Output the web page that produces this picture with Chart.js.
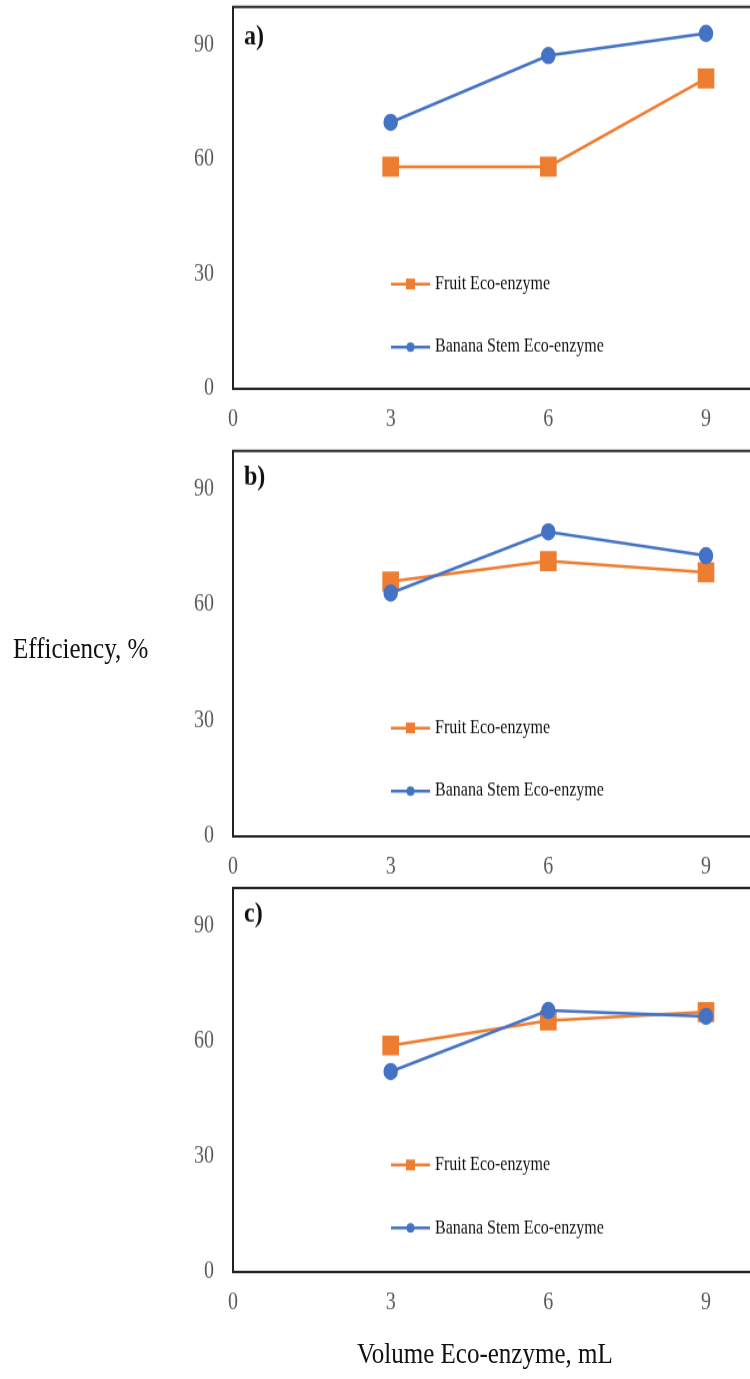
<!DOCTYPE html>
<html>
<head>
<meta charset="utf-8">
<script src="https://cdn.jsdelivr.net/npm/chart.js@4.4.1/dist/chart.umd.min.js"></script>
<style>
    html { margin: 0; padding: 0; background: #fff; overflow: hidden; }
    body { margin: 0; padding: 0; background: #fff; height: 1379px; }
    /* the source figure is stretched vertically, so draw it flat and stretch the whole block */
    #figure {
        position: relative; width: 750px; height: 1149px;
        transform: scaleY(1.2); transform-origin: 0 0;
        font-family: "Liberation Serif", "Times New Roman", serif;
    }
    #figure canvas { position: absolute; left: 0; }
    .axis-title { position: absolute; font-size: 25px; line-height: 25px; color: #111; white-space: nowrap; }
</style>
</head>
<body>
<div id="figure">
    <canvas id="chart-a"></canvas>
    <canvas id="chart-b"></canvas>
    <canvas id="chart-c"></canvas>
    <div class="axis-title" style="left:13px; top:527px;">Efficiency, %</div>
    <div class="axis-title" style="left:357px; top:1115px;">Volume Eco-enzyme, mL</div>
</div>
<script>
// Dữ liệu
const volumes = [3, 6, 9];
const xTicks = [0, 3, 6, 9];
const yTicks = [0, 30, 60, 90];
const seriesNames = ['Fruit Eco-enzyme', 'Banana Stem Eco-enzyme'];
const panelLabels = ['a)', 'b)', 'c)'];

const fruitA = [58.2, 58.2, 81.3];
const bananaA = [69.8, 87.3, 93.1];
const fruitB = [66.1, 71.4, 68.5];
const bananaB = [63.1, 79.0, 72.8];
const fruitC = [59.0, 65.5, 67.7];
const bananaC = [52.2, 68.1, 66.6];

// Bố cục (tọa độ pixel của hình gốc, trước khi kéo giãn)
const STRETCH = 1.2;
const X_AXIS_H = 36;
const Y_AXIS_W = 233;
const X_MAX = 9.837;          // mép phải bị cắt ở 750px
const FRAME = '#222';
const TICK_COLOR = '#595959';
const FONT = '"Liberation Serif", "Times New Roman", serif';
const LEGEND_ROWS = [230.8, 283.3];
const panelBoxes = [
    { id: 'chart-a', top: 7,   bottom: 389,  labelDy: 25 },
    { id: 'chart-b', top: 451, bottom: 836,  labelDy: 21.7 },
    { id: 'chart-c', top: 888, bottom: 1272, labelDy: 21.7 }
];

Chart.defaults.font.family = FONT;

// Vẽ khung trên, nhãn a)/b)/c) và chú thích nằm trong vùng biểu đồ
const panelDecor = {
    id: 'panelDecor',
    afterDatasetsDraw(chart, args, opts) {
        const { ctx, chartArea: a } = chart;
        ctx.save();
        ctx.strokeStyle = FRAME;
        ctx.lineWidth = 2;
        ctx.beginPath();
        ctx.moveTo(a.left - 1, a.top);
        ctx.lineTo(a.right, a.top);
        ctx.stroke();

        ctx.fillStyle = '#111';
        ctx.textBaseline = 'middle';
        ctx.textAlign = 'left';
        ctx.font = 'bold 24px ' + FONT;
        ctx.fillText(opts.label, a.left + 11, a.top + opts.labelDy);

        ctx.font = '16px ' + FONT;
        chart.data.datasets.forEach((ds, i) => {
            const y = a.top + LEGEND_ROWS[i];
            const x0 = a.left + 158, x1 = a.left + 197, xm = (x0 + x1) / 2;
            ctx.strokeStyle = ds.borderColor;
            ctx.lineWidth = 2.5;
            ctx.beginPath();
            ctx.moveTo(x0, y);
            ctx.lineTo(x1, y);
            ctx.stroke();
            ctx.fillStyle = ds.pointBackgroundColor;
            if (ds.pointStyle === 'rect') {
                ctx.fillRect(xm - 4.5, y - 4.5, 9, 9);
            } else {
                ctx.beginPath();
                ctx.arc(xm, y, 4, 0, Math.PI * 2);
                ctx.fill();
            }
            ctx.fillStyle = '#111';
            ctx.fillText(ds.label, x1 + 5, y);
        });
        ctx.restore();
    }
};

function toPoints(values) {
    return values.map((v, i) => ({ x: volumes[i], y: v }));
}

function makePanel(box, label, fruit, banana) {
    const topU = box.top / STRETCH;
    const areaH = (box.bottom - box.top) / STRETCH;
    const canvasTop = Math.floor(topU) - 6;
    const padTop = topU - canvasTop;
    const height = Math.ceil(padTop + areaH + X_AXIS_H);
    const padBottom = height - padTop - areaH - X_AXIS_H;

    const canvas = document.getElementById(box.id);
    canvas.width = 750;
    canvas.height = height;
    canvas.style.width = '750px';
    canvas.style.height = height + 'px';
    canvas.style.top = canvasTop + 'px';

    new Chart(canvas.getContext('2d'), {
        type: 'line',
        data: {
            datasets: [
                {
                    label: seriesNames[0],
                    data: toPoints(fruit),
                    borderColor: '#ED7D31',
                    backgroundColor: '#ED7D31',
                    pointBackgroundColor: '#ED7D31',
                    pointBorderColor: '#ED7D31',
                    pointStyle: 'rect',
                    pointRadius: 10,
                    borderWidth: 2.5,
                    clip: false,
                    order: 1
                },
                {
                    label: seriesNames[1],
                    data: toPoints(banana),
                    borderColor: '#4472C4',
                    backgroundColor: '#4472C4',
                    pointBackgroundColor: '#4472C4',
                    pointBorderColor: '#4472C4',
                    pointStyle: 'circle',
                    pointRadius: 6,
                    borderWidth: 2.5,
                    clip: false,
                    order: 0
                }
            ]
        },
        options: {
            responsive: false,
            animation: false,
            events: [],
            layout: { autoPadding: false, padding: { top: padTop, bottom: padBottom, left: 0, right: 0 } },
            plugins: {
                legend: { display: false },
                tooltip: { enabled: false },
                panelDecor: { label: label, labelDy: box.labelDy }
            },
            scales: {
                x: {
                    type: 'linear',
                    min: 0,
                    max: X_MAX,
                    afterBuildTicks: s => { s.ticks = xTicks.map(v => ({ value: v })); },
                    afterFit: s => { s.height = X_AXIS_H; s.paddingLeft = 0; s.paddingRight = 0; },
                    grid: { display: false, drawTicks: false },
                    border: { display: true, color: FRAME, width: 2 },
                    ticks: { padding: 14, color: TICK_COLOR, font: { size: 20 } }
                },
                y: {
                    min: 0,
                    max: 100,
                    afterBuildTicks: s => { s.ticks = yTicks.map(v => ({ value: v })); },
                    afterFit: s => { s.width = Y_AXIS_W; s.paddingTop = 0; s.paddingBottom = 0; },
                    grid: { display: false, drawTicks: false },
                    border: { display: true, color: FRAME, width: 2 },
                    ticks: { padding: 19, color: TICK_COLOR, font: { size: 20 } }
                }
            }
        },
        plugins: [panelDecor]
    });
}

makePanel(panelBoxes[0], panelLabels[0], fruitA, bananaA);
makePanel(panelBoxes[1], panelLabels[1], fruitB, bananaB);
makePanel(panelBoxes[2], panelLabels[2], fruitC, bananaC);
</script>
</body>
</html>
